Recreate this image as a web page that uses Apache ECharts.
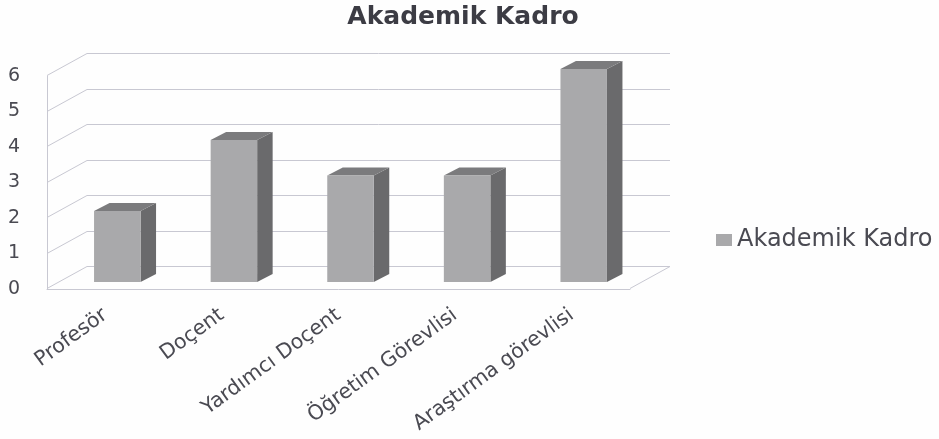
<!DOCTYPE html>
<html>
<head>
<meta charset="utf-8">
<script src="https://cdn.jsdelivr.net/npm/echarts@6/dist/echarts.min.js"></script>
<style>
  html, body { margin: 0; padding: 0; background: #fefefe; }
  #chart { width: 939px; height: 439px; }
</style>
</head>
<body>
<div id="chart"></div>
<script>
const seriesName = 'Akademik Kadro'
const categories = ['Profesör', 'Doçent', 'Yardımcı Doçent', 'Öğretim Görevlisi', 'Araştırma görevlisi']
const values = [2, 4, 3, 3, 6]
const yTicks = [0, 1, 2, 3, 4, 5, 6]

// oblique projection of the 3D box
const wallDx = 40
const wallDy = -22
const barDx = 15.5
const barDy = -8
const barShiftX = 12
const barShiftY = -7
const barWidth = 46.5

const chart = echarts.init(document.getElementById('chart'))
const textColor = '#4a4a52'
const lineColor = '#c8c8d2'
const font = '"DejaVu Sans", sans-serif'

const renderWall = (params, api) => {
  const y = Math.round(api.coord([0, api.value(0)])[1]) - 0.5
  const left = params.coordSys.x
  const right = left + params.coordSys.width
  const children = [{
    type: 'polyline',
    shape: { points: [[left, y], [left + wallDx, y + wallDy], [right + wallDx, y + wallDy]] },
    style: { stroke: lineColor, lineWidth: 1, fill: null }
  }]
  if (api.value(0) === 0) {
    children.push({
      type: 'line',
      shape: { x1: right, y1: y, x2: right + wallDx, y2: y + wallDy },
      style: { stroke: lineColor, lineWidth: 1 }
    })
  }
  return { type: 'group', children }
}

const renderBar = (params, api) => {
  const top = api.coord([api.value(0), api.value(1)])
  const base = api.coord([api.value(0), 0])
  const x0 = top[0] - barWidth / 2 + barShiftX
  const x1 = x0 + barWidth
  const yTop = top[1] + barShiftY
  const yBase = base[1] + barShiftY
  return {
    type: 'group',
    children: [
      {
        type: 'polygon',
        shape: { points: [[x1, yTop], [x1 + barDx, yTop + barDy], [x1 + barDx, yBase + barDy], [x1, yBase]] },
        style: { fill: '#6a6a6c' }
      },
      {
        type: 'polygon',
        shape: { points: [[x0, yTop], [x0 + barDx, yTop + barDy], [x1 + barDx, yTop + barDy], [x1, yTop]] },
        style: { fill: '#7b7b7d' }
      },
      {
        type: 'rect',
        shape: { x: x0, y: yTop, width: barWidth, height: yBase - yTop },
        style: { fill: api.visual('color') }
      }
    ]
  }
}

chart.setOption({
  animation: false,
  backgroundColor: '#fefefe',
  textStyle: { fontFamily: font },
  title: {
    text: seriesName,
    left: 458,
    top: 0,
    textAlign: 'center',
    textStyle: { fontFamily: font, fontSize: 25, fontWeight: 'bold', color: '#3c3c44' }
  },
  legend: {
    data: [seriesName],
    left: 711,
    top: 223,
    icon: 'rect',
    itemWidth: 16,
    itemHeight: 12,
    itemGap: 7,
    textStyle: { fontFamily: font, fontSize: 24, color: textColor }
  },
  grid: { left: 47, right: 309, top: 76, bottom: 150 },
  xAxis: {
    type: 'category',
    data: categories,
    axisTick: { show: false },
    axisLine: { lineStyle: { color: lineColor } },
    axisLabel: { rotate: 36, interval: 0, margin: 24, fontFamily: font, fontSize: 20.5, color: textColor }
  },
  yAxis: {
    type: 'value',
    min: 0,
    max: 6,
    interval: 1,
    splitLine: { show: false },
    axisTick: { show: false },
    axisLine: { show: true, lineStyle: { color: lineColor } },
    axisLabel: { margin: 27, fontFamily: font, fontSize: 19, color: textColor }
  },
  series: [
    {
      type: 'custom',
      name: 'wall',
      renderItem: renderWall,
      data: yTicks.map(v => [v]),
      encode: { y: 0 },
      silent: true,
      clip: false,
      z: 1
    },
    {
      type: 'custom',
      name: seriesName,
      renderItem: renderBar,
      data: values.map((v, i) => [i, v]),
      encode: { x: 0, y: 1 },
      itemStyle: { color: '#a9a9ab' },
      clip: false,
      z: 2
    }
  ]
})
</script>
</body>
</html>
